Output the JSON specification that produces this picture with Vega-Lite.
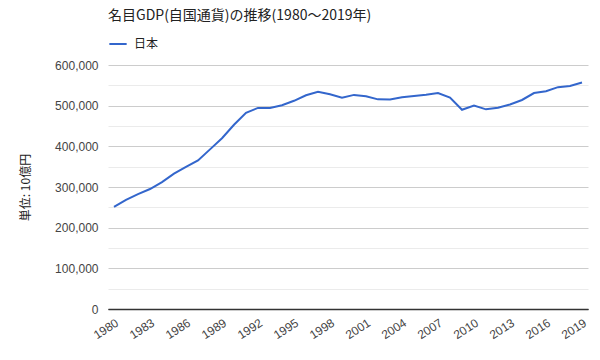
{
  "$schema": "https://vega.github.io/schema/vega-lite/v6.json",
  "autosize": {"type": "none"},
  "width": 480,
  "height": 244,
  "padding": {"left": 108, "top": 65, "right": 12, "bottom": 51},
  "background": "white",
  "title": {
    "text": "名目GDP(自国通貨)の推移(1980〜2019年)",
    "anchor": "start",
    "frame": "group",
    "offset": 11,
    "font": "Noto Sans CJK JP",
    "fontSize": 14,
    "fontWeight": "normal",
    "color": "#222222"
  },
  "config": {
    "view": {"stroke": null},
    "font": "Liberation Sans, Noto Sans CJK JP"
  },
  "data": {
    "values": [
      {"year": 1980, "country": "日本", "gdp": 251000},
      {"year": 1981, "country": "日本", "gdp": 268500},
      {"year": 1982, "country": "日本", "gdp": 282500},
      {"year": 1983, "country": "日本", "gdp": 295000},
      {"year": 1984, "country": "日本", "gdp": 312000},
      {"year": 1985, "country": "日本", "gdp": 333000},
      {"year": 1986, "country": "日本", "gdp": 349500},
      {"year": 1987, "country": "日本", "gdp": 365500},
      {"year": 1988, "country": "日本", "gdp": 392500},
      {"year": 1989, "country": "日本", "gdp": 420000},
      {"year": 1990, "country": "日本", "gdp": 453000},
      {"year": 1991, "country": "日本", "gdp": 482500},
      {"year": 1992, "country": "日本", "gdp": 494500},
      {"year": 1993, "country": "日本", "gdp": 494500},
      {"year": 1994, "country": "日本", "gdp": 501000},
      {"year": 1995, "country": "日本", "gdp": 512000},
      {"year": 1996, "country": "日本", "gdp": 525500},
      {"year": 1997, "country": "日本", "gdp": 534000},
      {"year": 1998, "country": "日本", "gdp": 528000},
      {"year": 1999, "country": "日本", "gdp": 519500},
      {"year": 2000, "country": "日本", "gdp": 526500},
      {"year": 2001, "country": "日本", "gdp": 523000},
      {"year": 2002, "country": "日本", "gdp": 515500},
      {"year": 2003, "country": "日本", "gdp": 515000},
      {"year": 2004, "country": "日本", "gdp": 520500},
      {"year": 2005, "country": "日本", "gdp": 524000},
      {"year": 2006, "country": "日本", "gdp": 527000},
      {"year": 2007, "country": "日本", "gdp": 531000},
      {"year": 2008, "country": "日本", "gdp": 520000},
      {"year": 2009, "country": "日本", "gdp": 490000},
      {"year": 2010, "country": "日本", "gdp": 500500},
      {"year": 2011, "country": "日本", "gdp": 491000},
      {"year": 2012, "country": "日本", "gdp": 495000},
      {"year": 2013, "country": "日本", "gdp": 503000},
      {"year": 2014, "country": "日本", "gdp": 514000},
      {"year": 2015, "country": "日本", "gdp": 531000},
      {"year": 2016, "country": "日本", "gdp": 535500},
      {"year": 2017, "country": "日本", "gdp": 545500},
      {"year": 2018, "country": "日本", "gdp": 548500},
      {"year": 2019, "country": "日本", "gdp": 557000}
    ]
  },
  "mark": {"type": "line", "strokeWidth": 2, "interpolate": "linear"},
  "encoding": {
    "x": {
      "field": "year",
      "type": "quantitative",
      "scale": {"domain": [1979.5, 2019.5], "nice": false, "zero": false},
      "axis": {
        "title": null,
        "values": [1980, 1983, 1986, 1989, 1992, 1995, 1998, 2001, 2004, 2007, 2010, 2013, 2016, 2019],
        "format": "d",
        "grid": false,
        "ticks": false,
        "domain": true,
        "domainColor": "#333333",
        "domainWidth": 1.5,
        "labelAngle": -33,
        "labelAlign": "right",
        "labelBaseline": "top",
        "labelPadding": 8,
        "labelFontSize": 12,
        "labelColor": "#444444",
        "labelFont": "Liberation Sans",
        "labelOverlap": false
      }
    },
    "y": {
      "field": "gdp",
      "type": "quantitative",
      "scale": {"domain": [0, 600000], "nice": false},
      "axis": {
        "title": "単位: 10億円",
        "titleFontSize": 12,
        "titleFontWeight": "normal",
        "titleColor": "#222222",
        "titlePadding": 22,
        "titleFont": "Noto Sans CJK JP",
        "values": [0, 50000, 100000, 150000, 200000, 250000, 300000, 350000, 400000, 450000, 500000, 550000, 600000],
        "labelExpr": "datum.value % 100000 === 0 ? format(datum.value, ',') : ''",
        "labelFontSize": 12,
        "labelColor": "#444444",
        "labelFont": "Liberation Sans",
        "labelPadding": 10,
        "ticks": false,
        "domain": false,
        "grid": true,
        "gridColor": {
          "condition": [
            {"test": "datum.value === 0", "value": "#333333"},
            {"test": "datum.value % 100000 === 0", "value": "#cccccc"}
          ],
          "value": "#ebebeb"
        },
        "gridWidth": 1
      }
    },
    "color": {
      "field": "country",
      "type": "nominal",
      "scale": {"range": ["#3366cc"]},
      "legend": {
        "title": null,
        "orient": "none",
        "legendX": 0,
        "legendY": -31,
        "symbolType": "stroke",
        "symbolStrokeWidth": 2,
        "symbolSize": 300,
        "labelFontSize": 12,
        "labelColor": "#222222",
        "labelFont": "Noto Sans CJK JP",
        "labelOffset": 6
      }
    }
  }
}
